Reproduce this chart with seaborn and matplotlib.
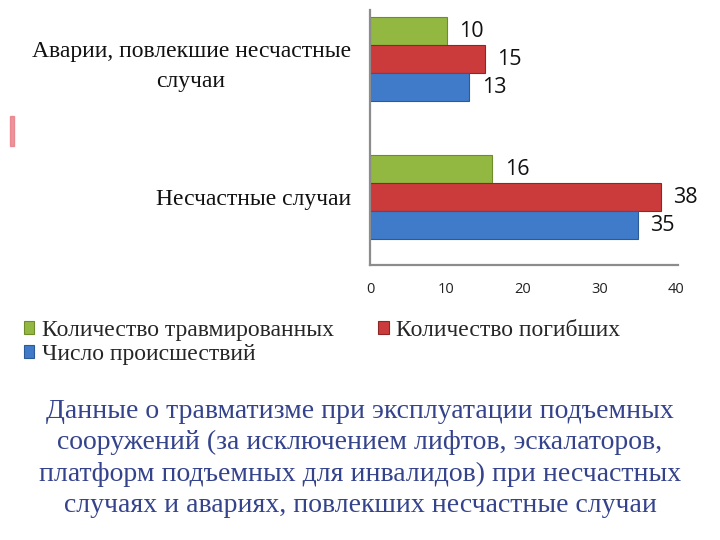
import matplotlib
matplotlib.use("Agg")
import matplotlib.pyplot as plt
import seaborn as sns
import pandas as pd
from matplotlib.patches import Rectangle

categories = ["Аварии, повлекшие несчастные\nслучаи", "Несчастные случаи"]
series = ["Количество травмированных", "Количество погибших", "Число происшествий"]
injured = [10, 16]
deaths = [15, 38]
incidents = [13, 35]
xticks = [0, 10, 20, 30, 40]
colors = ["#93B842", "#CC3B3B", "#3F7BC8"]
edge_colors = ["#6E8C2A", "#8E2626", "#2B5A96"]
caption = ("Данные о травматизме при эксплуатации подъемных\n"
           "сооружений (за исключением лифтов, эскалаторов,\n"
           "платформ подъемных для инвалидов) при несчастных\n"
           "случаях и авариях, повлекших несчастные случаи")

rows = []
for s, vals in zip(series, [injured, deaths, incidents]):
    for c, v in zip(categories, vals):
        rows.append({"cat": c, "series": s, "value": v})
df = pd.DataFrame(rows)

sns.set_theme(style="white")
plt.rcParams["font.family"] = ["Liberation Serif", "DejaVu Serif"]

fig = plt.figure(figsize=(7.2, 5.4), dpi=100)
ax = fig.add_axes([0.514, 0.509, 0.428, 0.472])

sns.barplot(data=df, y="cat", x="value", hue="series", order=categories,
            hue_order=series, palette=colors, orient="h", width=0.61,
            ax=ax, legend=False, saturation=1)

for cont, ec in zip(ax.containers, edge_colors):
    for p in cont:
        p.set_edgecolor(ec)
        p.set_linewidth(0.8)
    ax.bar_label(cont, padding=9, fontsize=15.5, fontfamily="Open Sans", color="#111111")

ax.set_xlim(0, 40.3)
ax.set_ylim(1.493, -0.355)
ax.set_xticks(xticks)
ax.set_xticklabels([str(t) for t in xticks], fontfamily="Open Sans", fontsize=10.5, color="#222222")
ax.tick_params(axis="x", length=0, pad=12)
ax.tick_params(axis="y", length=0, pad=14)
ax.set_xlabel("")
ax.set_ylabel("")
for lbl in ax.get_yticklabels():
    lbl.set_fontsize(17)
    lbl.set_multialignment("center")
    lbl.set_linespacing(1.55)
    lbl.set_color("#111111")
sns.despine(ax=ax)
for side in ["left", "bottom"]:
    ax.spines[side].set_color("#8C8C8C")
    ax.spines[side].set_linewidth(1.6)

# legend, row-wise order
handles = [ax.containers[0][0], ax.containers[2][0], ax.containers[1][0]]
labels = [series[0], series[2], series[1]]
leg = fig.legend(handles, labels, ncol=2, loc="upper left",
                 bbox_to_anchor=(0.02, 0.425), frameon=False, fontsize=17,
                 handlelength=0.45, handleheight=0.45, handletextpad=0.3,
                 columnspacing=1.9, labelspacing=0.12, borderaxespad=0)

fig.text(0.5, 0.151, caption, ha="center", va="center", fontsize=20,
         color="#34438C", linespacing=1.33)

fig.patches.append(Rectangle((0.014, 0.73), 0.006, 0.055, transform=fig.transFigure,
                             color="#E97985", alpha=0.8))

fig.savefig("out.png", dpi=100)
